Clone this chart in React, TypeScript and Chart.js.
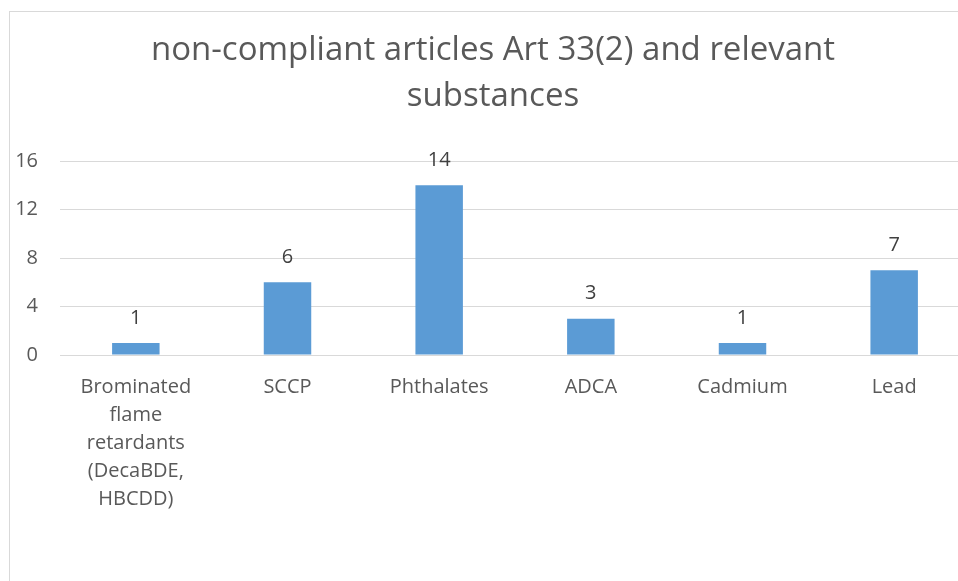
import React, { useEffect, useRef } from "react";
import { Chart, registerables } from "chart.js";

Chart.register(...registerables);

const TITLE_LINES = ["non-compliant articles Art 33(2) and relevant", "substances"];
const CATEGORIES: (string | string[])[] = [
  ["Brominated", "flame", "retardants", "(DecaBDE,", "HBCDD)"],
  "SCCP",
  "Phthalates",
  "ADCA",
  "Cadmium",
  "Lead",
];
const VALUES = [1, 6, 14, 3, 1, 7];
const Y_MIN = 0;
const Y_MAX = 16;
const Y_STEP = 4;

const FONT = "'Open Sans', 'Liberation Sans', sans-serif";

const titlePlugin = {
  id: "customTitle",
  afterDraw(chart: any) {
    const ctx = chart.ctx;
    ctx.save();
    ctx.font = `33px ${FONT}`;
    ctx.fillStyle = "#595959";
    ctx.textAlign = "center";
    ctx.textBaseline = "middle";
    const cx = chart.width / 2;
    TITLE_LINES.forEach((l, i) => ctx.fillText(l, cx, 39 + i * 46));
    ctx.restore();
  },
};

const valueLabelPlugin = {
  id: "valueLabels",
  afterDatasetsDraw(chart: any) {
    const ctx = chart.ctx;
    ctx.save();
    ctx.font = `20px ${FONT}`;
    ctx.fillStyle = "#404040";
    ctx.textAlign = "center";
    ctx.textBaseline = "middle";
    const meta = chart.getDatasetMeta(0);
    meta.data.forEach((bar: any, i: number) => {
      ctx.fillText(String(chart.data.datasets[0].data[i]), bar.x, bar.y - 25);
    });
    ctx.restore();
  },
};

export default function App() {
  const ref = useRef<HTMLCanvasElement | null>(null);
  useEffect(() => {
    if (!ref.current) return;
    const chart = new Chart(ref.current, {
      type: "bar",
      data: {
        labels: CATEGORIES,
        datasets: [
          {
            data: VALUES,
            backgroundColor: "#5B9BD5",
            categoryPercentage: 1,
            barPercentage: 0.313,
          },
        ],
      },
      options: {
        animation: false,
        responsive: false,
        devicePixelRatio: 1,
        layout: { padding: { top: 149, right: 6, left: 0, bottom: 0 } },
        plugins: { legend: { display: false }, title: { display: false }, tooltip: { enabled: false } },
        scales: {
          x: {
            grid: { display: false, drawTicks: false },
            border: { display: true, color: "#d9d9d9", width: 1 },
            ticks: {
              color: "#595959",
              font: { family: FONT, size: 20, lineHeight: 1.4 },
              padding: 18,
              maxRotation: 0,
              autoSkip: false,
            },
            afterFit(s: any) {
              s.height = 232;
            },
          },
          y: {
            min: Y_MIN,
            max: Y_MAX,
            grid: { color: "#d9d9d9", lineWidth: 1, drawTicks: false },
            border: { display: false },
            ticks: {
              stepSize: Y_STEP,
              color: "#595959",
              font: { family: FONT, size: 20 },
              padding: 22,
            },
            afterFit(s: any) {
              s.width = 50;
            },
          },
        },
      },
      plugins: [titlePlugin, valueLabelPlugin],
    });
    return () => chart.destroy();
  }, []);
  return (
    <div
      style={{
        position: "fixed",
        left: 9,
        top: 11,
        width: 1000,
        height: 600,
        borderLeft: "1px solid #d9d9d9",
        borderTop: "1px solid #d9d9d9",
        background: "#fff",
      }}
    >
      <canvas ref={ref} width={966} height={575} style={{ display: "block", width: 966, height: 575 }} />
    </div>
  );
}
